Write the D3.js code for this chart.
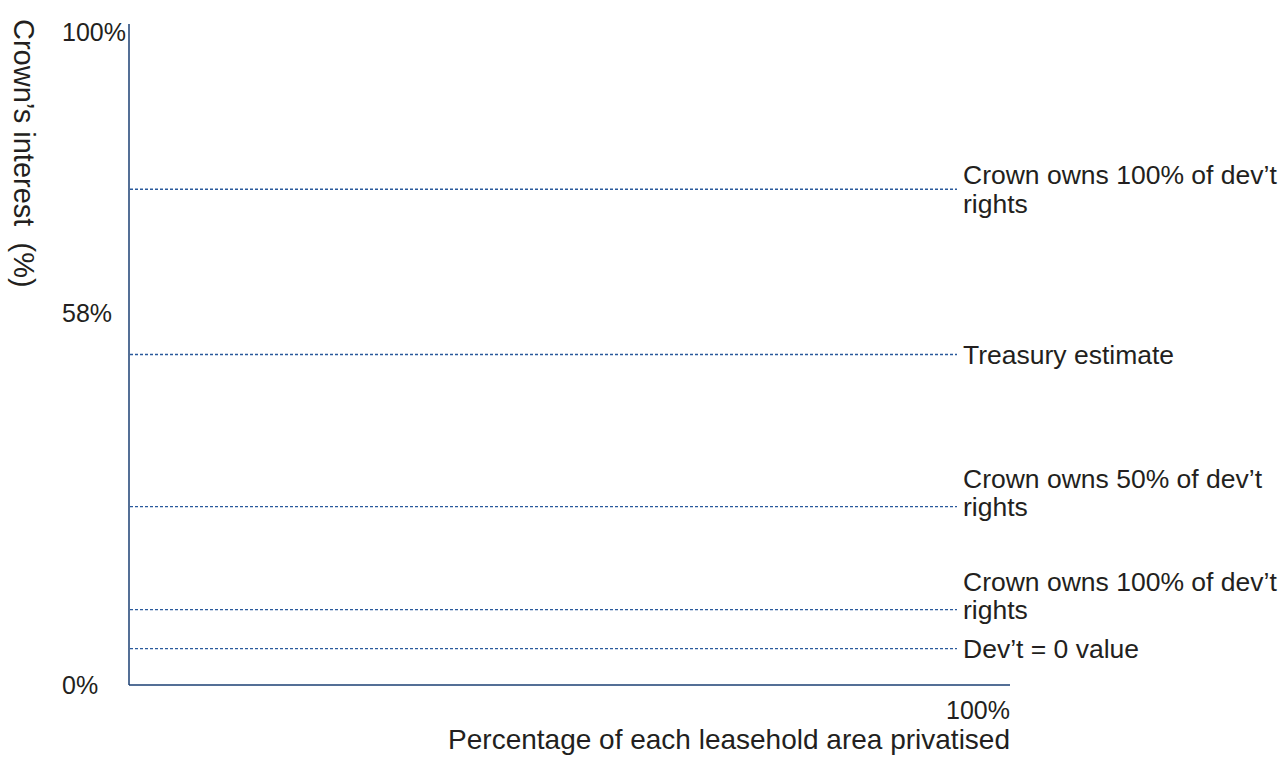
<!DOCTYPE html>
<html>
<head>
<meta charset="utf-8">
<script src="https://cdn.jsdelivr.net/npm/d3@7"></script>
<style>
  body { margin: 0; background: #fff; }
  text { font-family: "Liberation Sans", Arial, sans-serif; fill: #231f20; white-space: pre; }
</style>
</head>
<body>
<svg id="chart"></svg>
<script>
// reference lines (Crown's interest, %)
const lineLabels = [
  ["Crown owns 100% of dev\u2019t", "rights"],
  ["Treasury estimate"],
  ["Crown owns 50% of dev\u2019t", "rights"],
  ["Crown owns 100% of dev\u2019t", "rights"],
  ["Dev\u2019t = 0 value"]
];
const lineValues = [75, 50, 27, 11.4, 5.5];

const yTicks = [0, 58, 100];
const xTicks = [100];
const yTitle = "Crown\u2019s interest  (%)";
const xTitle = "Percentage of each leasehold area privatised";

const width = 1283;
const height = 757;
const margin = { left: 129, top: 24, right: 273, bottom: 72 };

const svg = d3.select("#chart").attr("width", width).attr("height", height);

const x = d3.scaleLinear().domain([0, 100]).range([margin.left, width - margin.right]);
const y = d3.scaleLinear().domain([0, 100]).range([height - margin.bottom, margin.top]);

const AXIS = "#1b3f73";
const DOT = "#2a5a9c";

// axes
svg.append("line")
  .attr("x1", x(0)).attr("x2", x(0))
  .attr("y1", y(100)).attr("y2", y(0))
  .attr("stroke", AXIS).attr("stroke-width", 1.5);
svg.append("line")
  .attr("x1", x(0)).attr("x2", x(100))
  .attr("y1", y(0)).attr("y2", y(0))
  .attr("stroke", AXIS).attr("stroke-width", 1.5);

// y tick labels are left aligned in the original
svg.selectAll("text.ytick")
  .data(yTicks)
  .join("text")
  .classed("ytick", true)
  .attr("x", 62)
  .attr("y", (d) => y(d))
  .attr("dy", (d) => (d === 0 ? "0.35em" : d === 58 ? "0.82em" : "0.68em"))
  .attr("text-anchor", "start")
  .style("font-size", "25px")
  .text((d) => d + "%");

svg.selectAll("text.xtick")
  .data(xTicks)
  .join("text")
  .classed("xtick", true)
  .attr("x", (d) => x(d))
  .attr("y", y(0) + 34)
  .attr("text-anchor", "end")
  .style("font-size", "25px")
  .text((d) => d + "%");

svg.append("text")
  .attr("x", x(100))
  .attr("y", y(0) + 64)
  .attr("text-anchor", "end")
  .style("font-size", "28px")
  .text(xTitle);

svg.append("text")
  .attr("transform", `translate(14, ${y(100) - 5}) rotate(90)`)
  .attr("text-anchor", "start")
  .style("font-size", "29px")
  .text(yTitle);

// dotted lines and their labels
const lineEnd = 957;
svg.selectAll("line.ref")
  .data(lineValues)
  .join("line")
  .classed("ref", true)
  .attr("x1", x(0) + 1)
  .attr("x2", lineEnd)
  .attr("y1", (d) => y(d))
  .attr("y2", (d) => y(d))
  .attr("stroke", DOT)
  .attr("stroke-width", 1.3)
  .attr("stroke-dasharray", "3,2");

const labels = svg.selectAll("text.reflabel")
  .data(lineValues)
  .join("text")
  .classed("reflabel", true)
  .attr("x", lineEnd + 6)
  .attr("y", (d) => y(d))
  .style("font-size", "26.5px");

labels.each(function (d, i) {
  const rows = lineLabels[i];
  // which row sits on the line
  let first;
  if (rows.length === 1) first = 0;
  else if (i === 0) first = -0.5;
  else first = -1;
  d3.select(this)
    .selectAll("tspan")
    .data(rows)
    .join("tspan")
    .attr("x", lineEnd + 6)
    .attr("dy", (r, j) => (j === 0 ? (first * 1.06 + 0.35) + "em" : "1.06em"))
    .text((r) => r);
});
</script>
</body>
</html>
